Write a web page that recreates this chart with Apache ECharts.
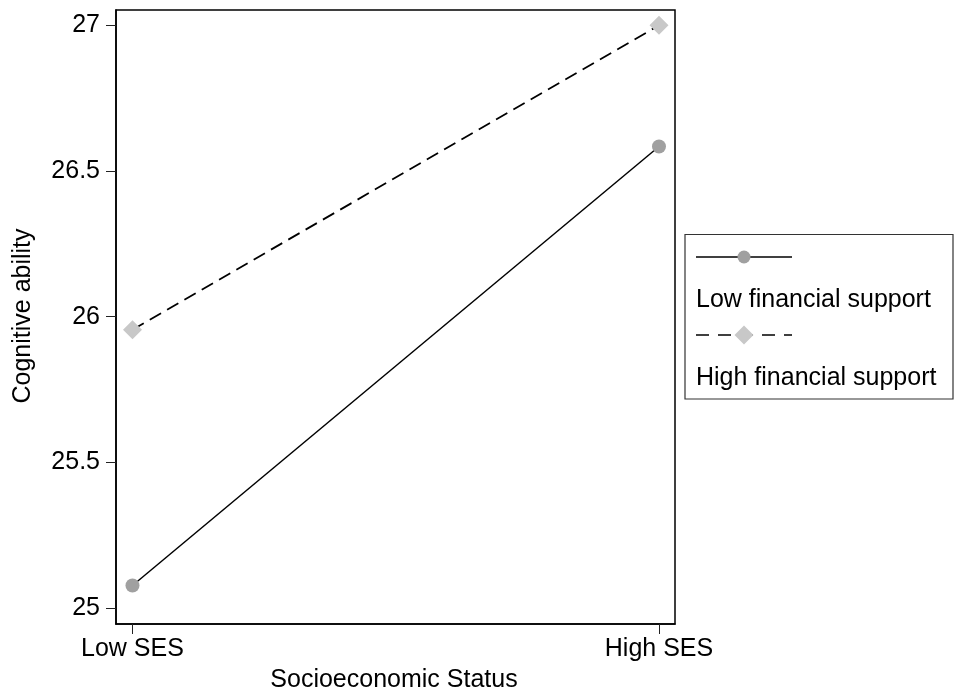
<!DOCTYPE html>
<html>
<head>
<meta charset="utf-8">
<script src="https://cdn.jsdelivr.net/npm/echarts@6/dist/echarts.min.js"></script>
<style>
  html, body { margin: 0; padding: 0; background: #fff; }
  #chart { width: 954px; height: 691px; }
</style>
</head>
<body>
<div id="chart"></div>
<script>
// Socioeconomic status groups on the horizontal axis
const sesCategories = ['Low SES', 'High SES'];
// Mean cognitive ability per group
const lowSupport = [25.077, 26.584];
const highSupport = [25.955, 27.0];
const seriesNames = ['Low financial support', 'High financial support'];
// Vertical axis ticks
const yTickValues = [25, 25.5, 26, 26.5, 27];
const yTickLabels = ['25', '25.5', '26', '26.5', '27'];

const FONT = 'Liberation Sans, Arial, Helvetica, sans-serif';
const FS = 25;

const chart = echarts.init(document.getElementById('chart'), null, { renderer: 'canvas' });

const toPoints = vals => vals.map((v, i) => [i, v]);

const option = {
  backgroundColor: '#fff',
  animation: false,
  grid: {
    left: 116, top: 10, right: 279, bottom: 67,
    show: true, borderColor: '#000', borderWidth: 1.5, backgroundColor: '#fff'
  },
  xAxis: {
    type: 'value',
    min: -0.0313, max: 1.0304,
    splitLine: { show: false },
    axisLine: { show: true, onZero: false, lineStyle: { color: '#000', width: 1.5 } },
    axisTick: { show: true, length: 10, customValues: [0, 1], lineStyle: { color: '#222', width: 1 } },
    axisLabel: {
      customValues: [0, 1],
      formatter: v => sesCategories[Math.round(v)],
      color: '#000', fontFamily: FONT, fontSize: FS, margin: 13
    }
  },
  yAxis: {
    type: 'value',
    min: 24.945, max: 27.0525,
    splitLine: { show: false },
    axisLine: { show: true, onZero: false, lineStyle: { color: '#000', width: 1.5 } },
    axisTick: { show: true, length: 10, customValues: yTickValues, lineStyle: { color: '#222', width: 1 } },
    axisLabel: {
      customValues: yTickValues,
      formatter: v => yTickLabels[yTickValues.findIndex(t => Math.abs(t - v) < 1e-6)],
      color: '#000', fontFamily: FONT, fontSize: FS, margin: 16
    }
  },
  series: [
    {
      name: seriesNames[0],
      type: 'line',
      data: toPoints(lowSupport),
      symbol: 'circle', symbolSize: 14,
      itemStyle: { color: '#a0a0a0' },
      lineStyle: { color: '#000', width: 1.5 },
      z: 3
    },
    {
      name: seriesNames[1],
      type: 'line',
      data: toPoints(highSupport),
      symbol: 'diamond', symbolSize: [19, 19],
      itemStyle: { color: '#c8c8c8' },
      lineStyle: { color: '#000', width: 1.8, type: [13, 7] },
      z: 3
    }
  ],
  graphic: [
    // axis titles
    {
      type: 'text', x: 23, y: 316, rotation: Math.PI / 2,
      style: { text: 'Cognitive ability', font: FS + 'px ' + FONT, fill: '#000', align: 'center', verticalAlign: 'middle' }
    },
    {
      type: 'text', x: 394, y: 680,
      style: { text: 'Socioeconomic Status', font: FS + 'px ' + FONT, fill: '#000', align: 'center', verticalAlign: 'middle' }
    },
    // legend frame
    {
      type: 'rect', shape: { x: 685, y: 234.5, width: 268, height: 164.5 },
      style: { fill: '#fff', stroke: '#333', lineWidth: 1.2 }
    },
    // legend: low financial support
    {
      type: 'line', shape: { x1: 696, y1: 257, x2: 792, y2: 257 },
      style: { stroke: '#000', lineWidth: 1.5 }
    },
    {
      type: 'circle', shape: { cx: 744, cy: 257, r: 6.5 },
      style: { fill: '#a0a0a0' }
    },
    {
      type: 'text', x: 696, y: 300,
      style: { text: seriesNames[0], font: FS + 'px ' + FONT, fill: '#000', align: 'left', verticalAlign: 'middle' }
    },
    // legend: high financial support
    {
      type: 'line', shape: { x1: 696, y1: 335, x2: 792, y2: 335 },
      style: { stroke: '#000', lineWidth: 1.5, lineDash: [13, 9] }
    },
    {
      type: 'polygon', shape: { points: [[744, 325.5], [753.5, 335], [744, 344.5], [734.5, 335]] },
      style: { fill: '#c8c8c8' }
    },
    {
      type: 'text', x: 696, y: 378,
      style: { text: seriesNames[1], font: FS + 'px ' + FONT, fill: '#000', align: 'left', verticalAlign: 'middle' }
    }
  ]
};

chart.setOption(option);
</script>
</body>
</html>
